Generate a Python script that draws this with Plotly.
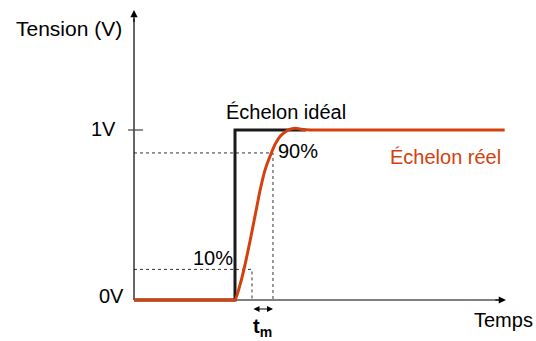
import plotly.graph_objects as go

# ---- data (time in step units, voltage in V) ----
real_t = [-1.0, -0.05, 0.0, 0.05, 0.10, 0.15, 0.20, 0.25, 0.30, 0.35, 0.40, 0.45, 0.50, 0.55, 0.60, 0.65, 0.75, 0.9, 2.67]
real_v = [0.0, 0.0, 0.0, 0.09, 0.21, 0.35, 0.50, 0.65, 0.77, 0.85, 0.92, 0.965, 0.99, 1.005, 1.01, 1.005, 1.0, 1.0, 1.0]
ideal_t = [-1.0, 0.0, 0.0, 0.7]
ideal_v = [0.0, 0.0, 1.0, 1.0]
level10_v = 0.18
level90_v = 0.865
t10 = 0.168
t90 = 0.376
t_start = -1.0
t_end = 2.683
v_top = 1.706

W, H = 536, 341
RED = "#D4400E"
FONT = "Liberation Sans, Arial, sans-serif"

def px(x):
    return x / W

def py(y):
    return 1 - y / H

fig = go.Figure()

# dashed guide lines (10% and 90%)
fig.add_trace(go.Scatter(x=[t_start, t10, t10], y=[level10_v, level10_v, 0],
                         mode="lines", line=dict(color="#333333", width=1, dash="3px,3px"),
                         hoverinfo="skip"))
fig.add_trace(go.Scatter(x=[t_start, t90, t90], y=[level90_v, level90_v, 0],
                         mode="lines", line=dict(color="#333333", width=1, dash="3px,3px"),
                         hoverinfo="skip"))
# axes
fig.add_trace(go.Scatter(x=[t_start, t_end - 0.05], y=[0, 0], mode="lines",
                         line=dict(color="black", width=1.2), hoverinfo="skip"))
fig.add_trace(go.Scatter(x=[t_start, t_start], y=[0, v_top - 0.05], mode="lines",
                         line=dict(color="black", width=1.2), hoverinfo="skip"))
# 1V tick
fig.add_trace(go.Scatter(x=[-1.059, -0.911], y=[1, 1], mode="lines",
                         line=dict(color="#444444", width=1.2), hoverinfo="skip"))
# ideal step
fig.add_trace(go.Scatter(x=ideal_t, y=ideal_v, mode="lines",
                         line=dict(color="#1a1a1a", width=3), hoverinfo="skip"))
# real step
fig.add_trace(go.Scatter(x=real_t, y=real_v, mode="lines", line_shape="spline",
                         line=dict(color=RED, width=3, smoothing=0.5), hoverinfo="skip"))

ann = []
# axis arrows
ann.append(dict(x=t_start, y=v_top, ax=t_start, ay=v_top - 0.08, xref="x", yref="y",
                axref="x", ayref="y", showarrow=True, arrowhead=2, arrowsize=1.2,
                arrowwidth=1.2, arrowcolor="black", text=""))
ann.append(dict(x=t_end, y=0, ax=t_end - 0.12, ay=0, xref="x", yref="y",
                axref="x", ayref="y", showarrow=True, arrowhead=2, arrowsize=1.2,
                arrowwidth=1.2, arrowcolor="black", text=""))
# t_m double arrow
ann.append(dict(x=t90, y=-0.053, ax=t10, ay=-0.053, xref="x", yref="y",
                axref="x", ayref="y", showarrow=True, arrowhead=2, startarrowhead=2,
                arrowside="end+start", arrowsize=1, arrowwidth=1.2, arrowcolor="black", text=""))

def label(text, cx, cy, color="black", size=20):
    ann.append(dict(text=text, x=px(cx), y=py(cy), xref="paper", yref="paper",
                    xanchor="center", yanchor="middle", showarrow=False,
                    font=dict(family=FONT, size=size, color=color)))

label("Tension (V)", 69, 28, size=21)
label("1V", 103, 129)
label("0V", 111, 296)
label("Échelon idéal", 285.5, 112)
label("90%", 297.5, 151)
label("10%", 213, 258)
label("Échelon réel", 445, 157, color=RED)
label("Temps", 503.5, 320)
label("<b>t<sub>m</sub></b>", 262, 327)

fig.update_layout(
    width=W, height=H, autosize=False,
    margin=dict(l=0, r=0, t=0, b=0),
    paper_bgcolor="white", plot_bgcolor="white",
    showlegend=False,
    xaxis=dict(range=[(0 - 235) / 101, (W - 235) / 101], visible=False, fixedrange=True),
    yaxis=dict(range=[(300 - H) / 170, 300 / 170], visible=False, fixedrange=True),
    annotations=ann,
)

fig.write_html("out.html", config={"displayModeBar": False},
               post_script="document.body.style.margin='0';document.body.style.overflow='hidden';")
